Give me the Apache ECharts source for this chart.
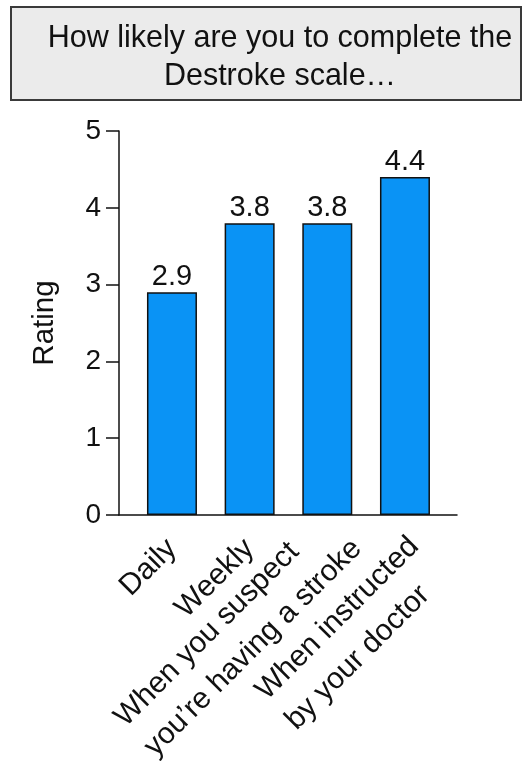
<!DOCTYPE html>
<html>
<head>
<meta charset="utf-8">
<script src="https://cdn.jsdelivr.net/npm/echarts@6/dist/echarts.min.js"></script>
<style>
  html, body { margin: 0; padding: 0; background: #fff; }
  #chart { width: 528px; height: 764px; }
</style>
</head>
<body>
<div id="chart"></div>
<script>
// data
const categories = ['Daily', 'Weekly', 'When you suspect\nyou\u2019re having a stroke', 'When instructed\nby your doctor']
const ratings = [2.9, 3.8, 3.8, 4.4]
const yTicks = [0, 1, 2, 3, 4, 5]

const font = '"Liberation Sans", Arial, Helvetica, sans-serif'
const chart = echarts.init(document.getElementById('chart'))

// bars sit at x = 0..3; an empty label at the right end keeps echarts
// from dropping the last real label for overlapping its neighbour
const labelSlots = categories.map(function (c, i) { return i }).concat([3.6])

// the two-line labels in the original sit a bit further along / lower
const labelStyle = ['s', 's', 'm3', 'm4']
const labelLead = [0, 0, 0, 1]

function xLabel(v) {
  if (!categories[v]) return ''
  let lines = categories[v].split('\n').map(function (s) { return '{' + labelStyle[v] + '|' + s + '}' })
  if (labelLead[v]) lines.unshift('{e|\u00a0}')
  return lines.join('\n')
}

const option = {
  animation: false,
  backgroundColor: '#fff',
  title: {
    text: 'How likely are you to complete the\nDestroke scale\u2026',
    left: 275,
    top: 15,
    textAlign: 'center',
    textStyle: {
      fontFamily: font,
      fontSize: 30.5,
      fontWeight: 'normal',
      color: '#111',
      lineHeight: 38
    }
  },
  graphic: [{
    type: 'rect',
    z: -1,
    shape: { x: 11, y: 7, width: 510, height: 93 },
    style: { fill: '#ebebeb', stroke: '#3a3a3a', lineWidth: 2 }
  }],
  grid: { left: 119, right: 71, top: 131, bottom: 249, outerBoundsMode: 'none' },
  xAxis: {
    type: 'value',
    min: -0.682,
    max: 3.67,
    splitLine: { show: false },
    axisTick: { show: false },
    axisLine: { onZero: false, lineStyle: { color: '#111', width: 1.5 } },
    axisLabel: {
      customValues: labelSlots,
      hideOverlap: false,
      rotate: 45,
      margin: 29,
      color: '#111',
      fontFamily: font,
      fontSize: 30,
      lineHeight: 42,
      formatter: xLabel,
      rich: {
        s: { align: 'left', fontFamily: font, fontSize: 30, lineHeight: 42, color: '#111' },
        m3: { align: 'left', fontFamily: font, fontSize: 30, lineHeight: 42, color: '#111', padding: [0, -21, 0, 0] },
        m4: { align: 'left', fontFamily: font, fontSize: 30, lineHeight: 42, color: '#111', padding: [0, -8, 0, 0] },
        e: { fontSize: 10, lineHeight: 52 }
      }
    }
  },
  yAxis: {
    type: 'value',
    min: 0,
    max: 5,
    interval: 1,
    name: 'Rating',
    nameLocation: 'middle',
    nameRotate: 90,
    nameGap: 59,
    nameTextStyle: { fontFamily: font, fontSize: 29.5, color: '#111' },
    splitLine: { show: false },
    axisLine: { show: true, onZero: false, lineStyle: { color: '#111', width: 1.5 } },
    axisTick: { show: true, length: 13, lineStyle: { color: '#111', width: 1.5 } },
    axisLabel: {
      margin: 18,
      color: '#111',
      fontFamily: font,
      fontSize: 28,
      formatter: function (v) { return yTicks.indexOf(v) >= 0 ? String(v) : '' }
    }
  },
  series: [{
    type: 'bar',
    barWidth: 50,
    data: ratings.map(function (r, i) { return [i, r] }),
    itemStyle: { color: '#0a93f5', borderColor: '#111', borderWidth: 1.5 },
    label: {
      show: true,
      position: 'top',
      distance: 1,
      color: '#111',
      fontFamily: font,
      fontSize: 29,
      formatter: function (p) { return p.value[1].toFixed(1) }
    }
  }]
}

chart.setOption(option)
</script>
</body>
</html>
